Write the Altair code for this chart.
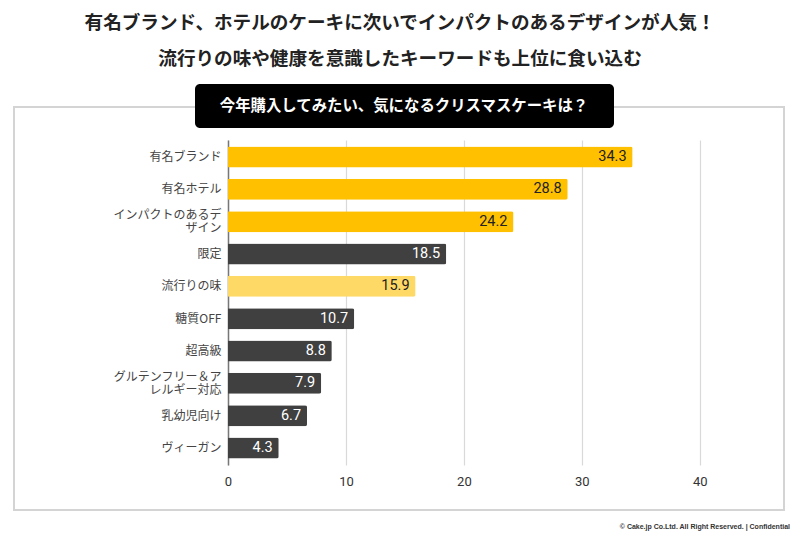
import altair as alt
import pandas as pd

categories = ["有名ブランド", "有名ホテル", "インパクトのあるデ|ザイン", "限定", "流行りの味",
              "糖質OFF", "超高級", "グルテンフリー＆ア|レルギー対応", "乳幼児向け", "ヴィーガン"]
values = [34.3, 28.8, 24.2, 18.5, 15.9, 10.7, 8.8, 7.9, 6.7, 4.3]
groups = ["top", "top", "top", "other", "trend", "other", "other", "other", "other", "other"]
x_ticks = [0, 10, 20, 30, 40]

title1 = "有名ブランド、ホテルのケーキに次いでインパクトのあるデザインが人気！"
title2 = "流行りの味や健康を意識したキーワードも上位に食い込む"
box_title = "今年購入してみたい、気になるクリスマスケーキは？"
footer = "© Cake.jp Co.Ltd. All Right Reserved. | Confidential"

df = pd.DataFrame({"cat": categories, "val": values, "grp": groups})

JP = "Noto Sans CJK JP"
W, H = 519, 325

grp_scale = alt.Scale(domain=["top", "trend", "other"], range=["#FFC000", "#FFD966", "#404040"])
txt_scale = alt.Scale(domain=["top", "trend", "other"], range=["#222222", "#222222", "#ffffff"])

frame = alt.Chart(pd.DataFrame({"t": ["frame"]})).mark_rect(fillOpacity=0, stroke="#d4d4d4", strokeWidth=2).encode(
    x=alt.value(-214), x2=alt.value(556), y=alt.value(-33), y2=alt.value(370)
)

y_enc = alt.Y("cat:N", sort=categories, title=None,
              scale=alt.Scale(paddingInner=0.35, paddingOuter=0.2),
              axis=alt.Axis(labelExpr="split(datum.label, '|')", labelFont=JP, labelFontSize=12,
                            labelColor="#444444", labelPadding=7, ticks=False, domainColor="#777777",
                            domainWidth=1.5, labelLineHeight=13.5,
                            labelOffset=alt.condition("indexof(datum.label, '|') >= 0",
                                                      alt.value(-6.7), alt.value(0)),
                            grid=False))
x_enc = alt.X("val:Q", title=None, scale=alt.Scale(domain=[0, 44], nice=False),
              axis=alt.Axis(values=x_ticks, domain=False, ticks=False, gridColor="#d9d9d9",
                            gridWidth=1.2, labelFont="Roboto", labelFontSize=13, labelColor="#333333",
                            labelPadding=10, labelFlush=False))

bars = alt.Chart(df).mark_bar(cornerRadiusEnd=2).encode(
    x=x_enc, y=y_enc,
    color=alt.Color("grp:N", scale=grp_scale, legend=None),
)
labels = alt.Chart(df).mark_text(align="right", dx=-6, font="Roboto", fontSize=14.5, baseline="middle").encode(
    x=alt.X("val:Q"), y=alt.Y("cat:N", sort=categories),
    text=alt.Text("val:Q", format=".1f"),
    fill=alt.Fill("grp:N", scale=txt_scale, legend=None),
)

t1 = alt.Chart(pd.DataFrame({"t": [title1]})).mark_text(font=JP, fontSize=18.6, fontWeight="bold", color="#222222").encode(
    text="t:N", x=alt.value(172), y=alt.value(-117))
t2 = alt.Chart(pd.DataFrame({"t": [title2]})).mark_text(font=JP, fontSize=18.6, fontWeight="bold", color="#222222").encode(
    text="t:N", x=alt.value(172), y=alt.value(-81))
box = alt.Chart(pd.DataFrame({"t": [box_title]})).mark_rect(fill="#000000", cornerRadius=5).encode(
    x=alt.value(-33), x2=alt.value(386), y=alt.value(-56), y2=alt.value(-12))
box_t = alt.Chart(pd.DataFrame({"t": [box_title]})).mark_text(font=JP, fontSize=15.4, fontWeight="bold", color="white").encode(
    text="t:N", x=alt.value(176), y=alt.value(-34))
foot = alt.Chart(pd.DataFrame({"t": [footer]})).mark_text(font="Liberation Sans", fontSize=7, fontWeight="bold",
                                                         color="#333333", align="right").encode(
    text="t:N", x=alt.value(562), y=alt.value(387))

chart = alt.layer(frame, bars, labels, t1, t2, box, box_t, foot).resolve_scale(
    color="independent", fill="independent"
).properties(
    width=W, height=H,
    background="white",
    autosize=alt.AutoSizeParams(type="none"),
    padding={"left": 220, "top": 132, "right": 45, "bottom": 67},
).configure_view(stroke=None)

chart.save("out.html", embed_options={"renderer": "svg", "actions": False})
